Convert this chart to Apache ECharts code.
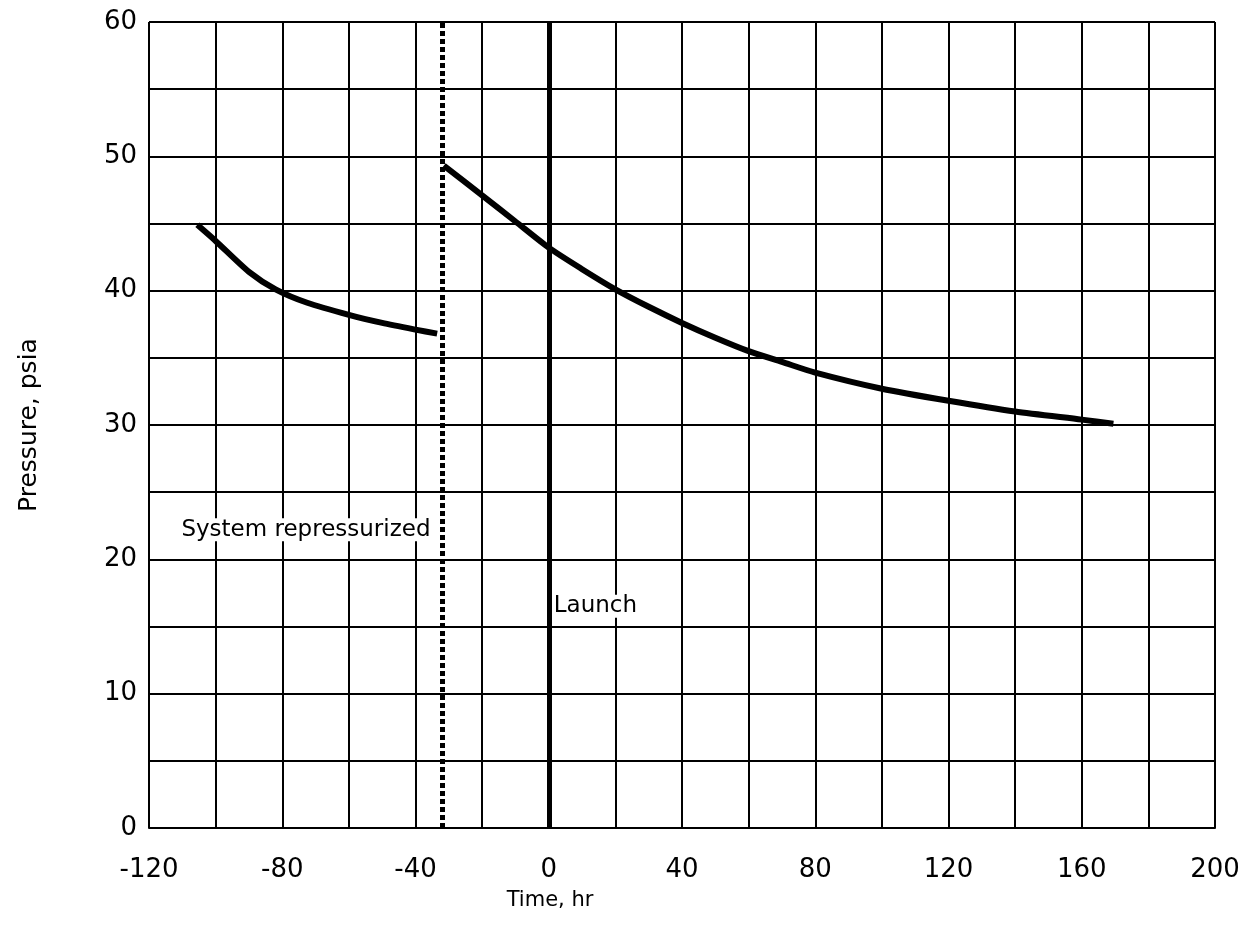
<!DOCTYPE html>
<html>
<head>
<meta charset="utf-8">
<script src="https://cdn.jsdelivr.net/npm/echarts@6/dist/echarts.min.js"></script>
<style>
html,body{margin:0;padding:0;background:#fff;}
#chart{width:1243px;height:934px;}
</style>
</head>
<body>
<div id="chart"></div>
<script>
// Pre-launch decay (before repressurization)
const preTime = [-105.5, -100, -90, -82, -72.5, -60, -50, -40, -33.5];
const prePressure = [44.9, 43.7, 41.4, 40.1, 39.1, 38.2, 37.6, 37.1, 36.8];
// After repressurization
const postTime = [-31.5, -20, -10, 0, 10, 20, 30, 40, 50, 60, 70, 80, 100, 120, 140, 160, 169.5];
const postPressure = [49.3, 47.1, 45.15, 43.2, 41.6, 40.1, 38.8, 37.6, 36.5, 35.5, 34.7, 33.9, 32.7, 31.8, 31.0, 30.4, 30.1];
// Event markers
const repressTime = -32;
const launchTime = 0;
const repressLabel = 'System repressurized';
const launchLabel = 'Launch';
const repressLabelPos = [-35.5, 22.2];
const launchLabelPos = [1.5, 16.5];
// Axes
const xMin = -120, xMax = 200, xStep = 40;
const yMin = 0, yMax = 60, yStep = 10;
const xTitle = 'Time, hr';
const yTitle = 'Pressure, psia';

const toPairs = (xs, ys) => xs.map((x, i) => [x, ys[i]]);

const chart = echarts.init(document.getElementById('chart'), null, {renderer: 'canvas'});
const gridLine = {show: true, lineStyle: {color: '#000', width: 2}};
const labelFont = {color: '#000', fontFamily: 'DejaVu Sans', fontSize: 26};

chart.setOption({
  animation: false,
  backgroundColor: '#fff',
  grid: {left: 149, right: 28, top: 22, bottom: 106},
  xAxis: {
    type: 'value', min: xMin, max: xMax, interval: xStep,
    axisLine: {show: true, onZero: false, lineStyle: {color: '#000', width: 2}},
    axisTick: {show: false},
    axisLabel: Object.assign({margin: 29}, labelFont),
    splitLine: gridLine,
    minorTick: {show: false, splitNumber: 2},
    minorSplitLine: gridLine,
    name: xTitle, nameLocation: 'middle', nameGap: 62,
    nameTextStyle: {color: '#000', fontFamily: 'DejaVu Sans', fontSize: 21, padding: [0, 264, 0, 0]}
  },
  yAxis: {
    type: 'value', min: yMin, max: yMax, interval: yStep,
    axisLine: {show: true, lineStyle: {color: '#000', width: 2}},
    axisTick: {show: false},
    axisLabel: Object.assign({margin: 12}, labelFont),
    splitLine: gridLine,
    minorTick: {show: false, splitNumber: 2},
    minorSplitLine: gridLine,
    name: yTitle, nameLocation: 'middle', nameGap: 107, nameRotate: 90,
    nameTextStyle: {color: '#000', fontFamily: 'DejaVu Sans', fontSize: 25}
  },
  series: [
    {
      type: 'line', data: toPairs(preTime, prePressure), smooth: 0.25,
      showSymbol: false, lineStyle: {color: '#000', width: 6}, z: 5
    },
    {
      type: 'line', data: toPairs(postTime, postPressure), smooth: 0.25,
      showSymbol: false, lineStyle: {color: '#000', width: 6}, z: 5,
      markLine: {
        silent: true, symbol: 'none', label: {show: false},
        data: [
          {xAxis: launchTime, lineStyle: {color: '#000', width: 5, type: 'solid'}},
          {xAxis: repressTime, lineStyle: {color: '#000', width: 5, type: [5, 3]}}
        ]
      },
      markPoint: {
        silent: true,
        data: [
          {coord: repressLabelPos, symbol: 'circle', symbolSize: 0,
           label: {show: true, position: 'left', distance: 0, formatter: repressLabel,
                   color: '#000', fontFamily: 'DejaVu Sans', fontSize: 23, backgroundColor: '#fff'}},
          {coord: launchLabelPos, symbol: 'circle', symbolSize: 0,
           label: {show: true, position: 'right', distance: 0, formatter: launchLabel,
                   color: '#000', fontFamily: 'DejaVu Sans', fontSize: 23, backgroundColor: '#fff'}}
        ]
      }
    }
  ]
});
</script>
</body>
</html>
